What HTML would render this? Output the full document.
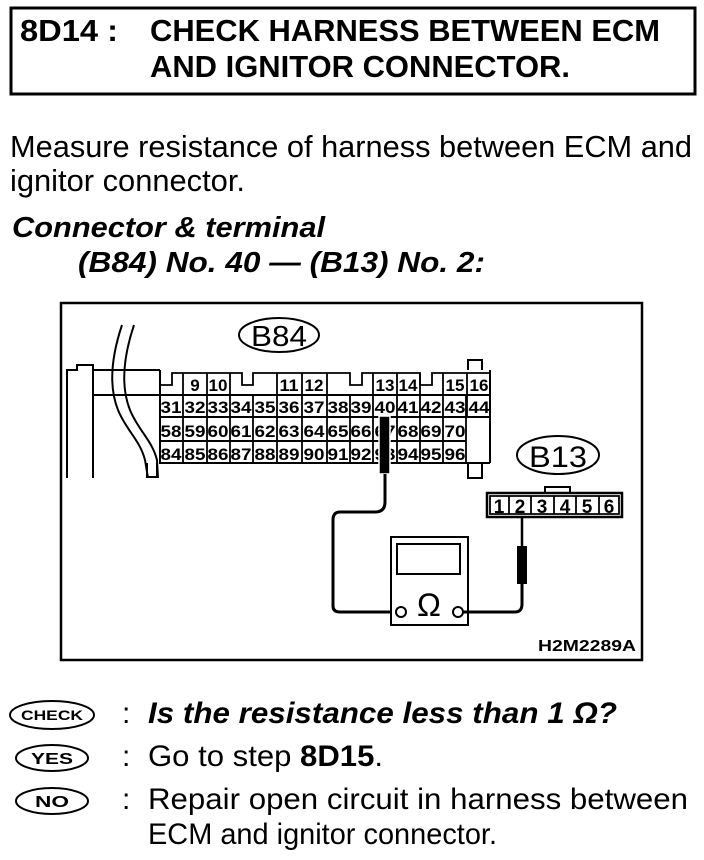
<!DOCTYPE html>
<html><head><meta charset="utf-8"><style>
html,body{margin:0;padding:0;background:#fff;}
svg{display:block;}
text{font-family:"Liberation Sans",Arial,sans-serif;fill:#000;}
</style></head><body>
<svg width="704" height="860" viewBox="0 0 704 860" xmlns="http://www.w3.org/2000/svg">
<rect x="11" y="8" width="684" height="86" fill="none" stroke="#000" stroke-width="3"/>
<text x="20" y="41" font-size="31" font-weight="bold" textLength="98" lengthAdjust="spacingAndGlyphs">8D14 :</text>
<text x="150" y="41" font-size="31" font-weight="bold" textLength="510" lengthAdjust="spacingAndGlyphs">CHECK HARNESS BETWEEN ECM</text>
<text x="150" y="77" font-size="31" font-weight="bold" textLength="420" lengthAdjust="spacingAndGlyphs">AND IGNITOR CONNECTOR.</text>

<text x="10" y="157" font-size="31" textLength="682" lengthAdjust="spacingAndGlyphs">Measure resistance of harness between ECM and</text>
<text x="10" y="191" font-size="31" textLength="235" lengthAdjust="spacingAndGlyphs">ignitor connector.</text>
<text x="12" y="237" font-size="29" font-weight="bold" font-style="italic" textLength="313" lengthAdjust="spacingAndGlyphs">Connector &amp; terminal</text>
<text x="78" y="272" font-size="29" font-weight="bold" font-style="italic" textLength="407" lengthAdjust="spacingAndGlyphs">(B84) No. 40 — (B13) No. 2:</text>

<rect x="61" y="303" width="581" height="357" fill="none" stroke="#000" stroke-width="2.5"/>

<ellipse cx="279" cy="335" rx="40" ry="17" fill="none" stroke="#000" stroke-width="2"/>
<text x="279" y="346" font-size="29" text-anchor="middle" textLength="56" lengthAdjust="spacingAndGlyphs">B84</text>

<g fill="none" stroke="#000" stroke-width="2">
<path d="M67 478 V370 H77 V365 H93 V370 H160"/>
<path d="M93 370 V478"/>
<path d="M93 395 H160"/>
<path d="M147 463 V477 H157 V463"/>
<path d="M160 370 V463 H490"/>
<path d="M160 395 H490"/>
<path d="M160 417 H490"/>
<path d="M160 441 H466"/>
<path d="M490 370 V463"/>
<path d="M468 463 V478 H482 V463"/>
<path d="M468 370 V360 H482 V370"/>
</g>
<g fill="none" stroke="#000" stroke-width="1.8">
<path d="M160 373 V385 H172 V373 H183 M183 373 H230 M230 373 H242 V385 H253 V373 H277 V373 H327 M327 373 H350 V385 H362 V373 H373 H420 V385 H432 V373 H443 H490"/>
<path d="M183 373 V395 M207 373 V395 M230 373 V395 M277 373 V395 M302 373 V395 M327 373 V395 M373 373 V395 M397 373 V395 M420 373 V395 M443 373 V395 M467 373 V395"/>
<path d="M183 395 V463 M207 395 V463 M230 395 V463 M253 395 V463 M277 395 V463 M302 395 V463 M327 395 V463 M350 395 V463 M373 395 V463 M397 395 V463 M420 395 V463 M443 395 V463 M466 395 V463 M467 395 V417"/>
</g>
<g font-size="17" font-weight="bold" text-anchor="middle">
<text x="195" y="391">9</text><text x="218" y="391" textLength="19" lengthAdjust="spacingAndGlyphs">10</text><text x="289" y="391" textLength="19" lengthAdjust="spacingAndGlyphs">11</text><text x="314" y="391" textLength="19" lengthAdjust="spacingAndGlyphs">12</text>
<text x="385" y="391" textLength="19" lengthAdjust="spacingAndGlyphs">13</text><text x="408" y="391" textLength="19" lengthAdjust="spacingAndGlyphs">14</text><text x="455" y="391" textLength="19" lengthAdjust="spacingAndGlyphs">15</text><text x="479" y="391" textLength="19" lengthAdjust="spacingAndGlyphs">16</text>
<text x="171" y="413" textLength="21" lengthAdjust="spacingAndGlyphs">31</text><text x="195" y="413" textLength="21" lengthAdjust="spacingAndGlyphs">32</text><text x="218" y="413" textLength="21" lengthAdjust="spacingAndGlyphs">33</text><text x="241" y="413" textLength="21" lengthAdjust="spacingAndGlyphs">34</text><text x="265" y="413" textLength="21" lengthAdjust="spacingAndGlyphs">35</text><text x="289" y="413" textLength="21" lengthAdjust="spacingAndGlyphs">36</text><text x="314" y="413" textLength="21" lengthAdjust="spacingAndGlyphs">37</text><text x="338" y="413" textLength="21" lengthAdjust="spacingAndGlyphs">38</text><text x="361" y="413" textLength="21" lengthAdjust="spacingAndGlyphs">39</text><text x="385" y="413" textLength="21" lengthAdjust="spacingAndGlyphs">40</text><text x="408" y="413" textLength="21" lengthAdjust="spacingAndGlyphs">41</text><text x="431" y="413" textLength="21" lengthAdjust="spacingAndGlyphs">42</text><text x="455" y="413" textLength="21" lengthAdjust="spacingAndGlyphs">43</text><text x="479" y="413" textLength="21" lengthAdjust="spacingAndGlyphs">44</text>
<text x="171" y="437" textLength="21" lengthAdjust="spacingAndGlyphs">58</text><text x="195" y="437" textLength="21" lengthAdjust="spacingAndGlyphs">59</text><text x="218" y="437" textLength="21" lengthAdjust="spacingAndGlyphs">60</text><text x="241" y="437" textLength="21" lengthAdjust="spacingAndGlyphs">61</text><text x="265" y="437" textLength="21" lengthAdjust="spacingAndGlyphs">62</text><text x="289" y="437" textLength="21" lengthAdjust="spacingAndGlyphs">63</text><text x="314" y="437" textLength="21" lengthAdjust="spacingAndGlyphs">64</text><text x="338" y="437" textLength="21" lengthAdjust="spacingAndGlyphs">65</text><text x="361" y="437" textLength="21" lengthAdjust="spacingAndGlyphs">66</text><text x="385" y="437" textLength="21" lengthAdjust="spacingAndGlyphs">67</text><text x="408" y="437" textLength="21" lengthAdjust="spacingAndGlyphs">68</text><text x="431" y="437" textLength="21" lengthAdjust="spacingAndGlyphs">69</text><text x="455" y="437" textLength="21" lengthAdjust="spacingAndGlyphs">70</text>
<text x="171" y="460" textLength="21" lengthAdjust="spacingAndGlyphs">84</text><text x="195" y="460" textLength="21" lengthAdjust="spacingAndGlyphs">85</text><text x="218" y="460" textLength="21" lengthAdjust="spacingAndGlyphs">86</text><text x="241" y="460" textLength="21" lengthAdjust="spacingAndGlyphs">87</text><text x="265" y="460" textLength="21" lengthAdjust="spacingAndGlyphs">88</text><text x="289" y="460" textLength="21" lengthAdjust="spacingAndGlyphs">89</text><text x="314" y="460" textLength="21" lengthAdjust="spacingAndGlyphs">90</text><text x="338" y="460" textLength="21" lengthAdjust="spacingAndGlyphs">91</text><text x="361" y="460" textLength="21" lengthAdjust="spacingAndGlyphs">92</text><text x="385" y="460" textLength="21" lengthAdjust="spacingAndGlyphs">93</text><text x="408" y="460" textLength="21" lengthAdjust="spacingAndGlyphs">94</text><text x="431" y="460" textLength="21" lengthAdjust="spacingAndGlyphs">95</text><text x="455" y="460" textLength="21" lengthAdjust="spacingAndGlyphs">96</text>
</g>
<path d="M122 325 C112 355 108 385 118 410 C126 430 140 440 145 460 L148 478" fill="none" stroke="#000" stroke-width="2"/>
<path d="M134 325 C124 355 120 385 130 410 C138 430 152 440 157 460 L158 478" fill="none" stroke="#000" stroke-width="2"/>

<rect x="379" y="416" width="11" height="58" fill="#000" stroke="#fff" stroke-width="1.5"/>
<path d="M385 474 V502 Q385 512 375 512 H340 Q333 512 333 520 V606 Q333 612 340 612 H395" fill="none" stroke="#000" stroke-width="3"/>

<rect x="391" y="537" width="77" height="88" fill="#fff" stroke="#000" stroke-width="2"/>
<rect x="397" y="544" width="63" height="30" fill="none" stroke="#000" stroke-width="2"/>
<text x="429" y="616" font-size="32" text-anchor="middle">Ω</text>
<circle cx="401" cy="612" r="5" fill="#fff" stroke="#000" stroke-width="2"/>
<circle cx="458" cy="612" r="5" fill="#fff" stroke="#000" stroke-width="2"/>
<path d="M463 612 H515 Q522 612 522 604 V583" fill="none" stroke="#000" stroke-width="3"/>
<rect x="517" y="546" width="10" height="38" fill="#000"/>
<path d="M522 546 V517" stroke="#000" stroke-width="2.5"/>

<ellipse cx="558" cy="455" rx="41" ry="19" fill="none" stroke="#000" stroke-width="2"/>
<text x="558" y="467" font-size="30" text-anchor="middle" textLength="58" lengthAdjust="spacingAndGlyphs">B13</text>
<path d="M545 493 V487 H570 V493" fill="none" stroke="#000" stroke-width="2"/>
<rect x="487" y="493" width="135" height="24" fill="none" stroke="#000" stroke-width="2.5"/>
<g stroke="#000" stroke-width="1.8"><path d="M490 496 H619 V514 H490 Z M509 496 V514 M531 496 V514 M554 496 V514 M576 496 V514 M599 496 V514" fill="none"/></g>
<g font-size="19" font-weight="bold" text-anchor="middle">
<text x="499" y="513">1</text><text x="520" y="513">2</text><text x="542" y="513">3</text><text x="565" y="513">4</text><text x="587" y="513">5</text><text x="609" y="513">6</text>
</g>
<text x="636" y="651" font-size="16" font-weight="bold" text-anchor="end" textLength="98" lengthAdjust="spacingAndGlyphs">H2M2289A</text>

<ellipse cx="52" cy="715" rx="42" ry="14" fill="none" stroke="#000" stroke-width="2"/>
<text x="52" y="720" font-size="14" font-weight="bold" text-anchor="middle" textLength="62" lengthAdjust="spacingAndGlyphs">CHECK</text>
<ellipse cx="52" cy="758" rx="36" ry="13" fill="none" stroke="#000" stroke-width="2"/>
<text x="52" y="764" font-size="16" font-weight="bold" text-anchor="middle" textLength="42" lengthAdjust="spacingAndGlyphs">YES</text>
<ellipse cx="52" cy="801" rx="36" ry="13" fill="none" stroke="#000" stroke-width="2"/>
<text x="52" y="807" font-size="16" font-weight="bold" text-anchor="middle" textLength="34" lengthAdjust="spacingAndGlyphs">NO</text>
<g font-size="30">
<text x="122" y="723">:</text><text x="122" y="766">:</text><text x="122" y="809">:</text>
<text x="148" y="723" font-weight="bold" font-style="italic" textLength="469" lengthAdjust="spacingAndGlyphs">Is the resistance less than 1 Ω?</text>
<text x="148" y="766" textLength="235" lengthAdjust="spacingAndGlyphs">Go to step <tspan font-weight="bold">8D15</tspan>.</text>
<text x="148" y="809" textLength="540" lengthAdjust="spacingAndGlyphs">Repair open circuit in harness between</text>
<text x="148" y="844" textLength="349" lengthAdjust="spacingAndGlyphs">ECM and ignitor connector.</text>
</g>
</svg>
</body></html>
